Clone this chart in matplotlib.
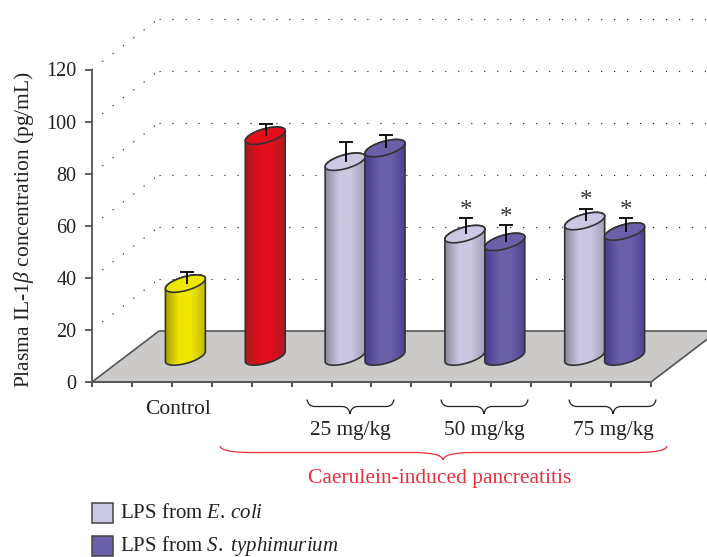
import numpy as np
import matplotlib
matplotlib.use('Agg')
import matplotlib.pyplot as plt
from matplotlib.colors import LinearSegmentedColormap
from matplotlib.patches import PathPatch, Polygon, Rectangle
from matplotlib.path import Path

plt.rcParams['font.family'] = ['Liberation Serif', 'DejaVu Serif']
plt.rcParams['mathtext.fontset'] = 'custom'
plt.rcParams['mathtext.rm'] = 'Liberation Serif'
plt.rcParams['mathtext.it'] = 'Liberation Serif:italic'

# values
positions = [1.5, 3.5, 5.5, 6.5, 8.5, 9.5, 11.5, 12.5]
values = [28, 84.8, 74.8, 80, 47, 44, 52, 48]
errors = [4.5, 4.6, 7.7, 5, 6.3, 6.5, 4.8, 5.3]
kinds = ['yellow', 'red', 'light', 'dark', 'light', 'dark', 'light', 'dark']
starred = [False, False, False, False, True, True, True, True]
yticks = [0, 20, 40, 60, 80, 100, 120]
group_labels = ['25 mg/kg', '50 mg/kg', '75 mg/kg']
legend_labels = ['LPS from $\\mathit{E.\\,coli}$', 'LPS from $\\mathit{S.\\ typhimurium}$']

# left edge, middle, right edge
shades = {
    'yellow': ['#a8a000', '#efe600', '#efe600', '#c4bc00'],
    'red': ['#a51d20', '#e30d1c', '#e30d1c', '#ad1b20'],
    'light': ['#8c8a9a', '#cbc8e4', '#cbc8e4', '#a3a1b8'],
    'dark': ['#483d8a', '#6a60a9', '#6a60a9', '#4d4290'],
}

W, H = 707, 557
AX_L, AX_R, AX_BOT, AX_TOP = 92, 651, 382, 69.5
X_UNIT = (AX_R - AX_L) / 14
Y_UNIT = (AX_BOT - AX_TOP) / 120
# how far the back of the floor sits behind the front, in data units
DEPTH_X = 67 / X_UNIT
DEPTH_Y = 51 / Y_UNIT

fig = plt.figure(figsize=(W / 100, H / 100), dpi=100)
ax = fig.add_axes([AX_L / W, 1 - AX_BOT / H, (AX_R - AX_L) / W, (AX_BOT - AX_TOP) / H])


def ellipse_points(cx, cy, start, stop):
    t = np.linspace(start, stop, 60)
    # sheared ellipse, left side lower than the right
    a = 0.5
    shear = 5 / Y_UNIT
    b = 7.1 / Y_UNIT
    return np.column_stack([cx + a * np.cos(t), cy + shear * np.cos(t) + b * np.sin(t)])


def draw_cylinder(x, value, kind):
    cx = x + DEPTH_X / 2
    base = DEPTH_Y / 2
    top = base + value
    colors = shades[kind]

    body = np.vstack([ellipse_points(cx, top, 0, np.pi), ellipse_points(cx, base, np.pi, 2 * np.pi)])
    patch = Polygon(body, closed=True, facecolor='none', edgecolor='#333333', lw=1.2, zorder=4, clip_on=False)
    ax.add_patch(patch)

    cmap = LinearSegmentedColormap.from_list(kind, list(zip([0, 0.35, 0.65, 1], colors)))
    im = ax.imshow(np.linspace(0, 1, 64).reshape(1, -1), cmap=cmap, aspect='auto',
                   extent=(cx - 0.5, cx + 0.5, 0, 120), zorder=3)
    im.set_clip_path(patch)

    cap = Polygon(ellipse_points(cx, top, 0, 2 * np.pi), closed=True, facecolor=colors[1],
                  edgecolor='#333333', lw=1.2, zorder=5)
    ax.add_patch(cap)


def draw_brace(overlay, x0, x1, tip, y_top, y_flat, y_tip, color, swoop=8):
    verts = [(x0, y_top), (x0 + 1, y_flat), (x0 + swoop, y_flat),
             (tip - swoop, y_flat), (tip - 1, y_flat), (tip, y_tip),
             (tip + 1, y_flat), (tip + swoop, y_flat),
             (x1 - swoop, y_flat), (x1 - 1, y_flat), (x1, y_top)]
    codes = [Path.MOVETO, Path.CURVE3, Path.CURVE3,
             Path.LINETO, Path.CURVE3, Path.CURVE3,
             Path.CURVE3, Path.CURVE3,
             Path.LINETO, Path.CURVE3, Path.CURVE3]
    overlay.add_patch(PathPatch(Path(verts, codes), facecolor='none', edgecolor=color, lw=0.9))


# floor and dotted walls
floor = Polygon([(0, 0), (14, 0), (14 + DEPTH_X, DEPTH_Y), (DEPTH_X, DEPTH_Y)], closed=True,
                facecolor='#cbcac9', edgecolor='#555555', lw=1.2, zorder=1, clip_on=False)
ax.add_patch(floor)
for level in yticks[1:]:
    ax.plot([0, DEPTH_X], [level, level + DEPTH_Y], color='#222222', lw=0.85,
            ls=(0, (1, 10)), clip_on=False, zorder=0)
    ax.plot([DEPTH_X, 14 + DEPTH_X], [level + DEPTH_Y, level + DEPTH_Y], color='#222222', lw=0.85,
            ls=(0, (1, 10)), clip_on=False, zorder=0)

for x, value, kind in zip(positions, values, kinds):
    draw_cylinder(x, value, kind)

for x, value, err, star in zip(positions, values, errors, starred):
    ex = x + DEPTH_X / 2 + 0.03
    ey = value + DEPTH_Y / 2
    ax.errorbar(ex, ey, yerr=[[0], [err]], color='black', lw=1.3, zorder=6, clip_on=False)
    ax.plot([ex], [ey + err], marker='_', ms=10, mew=1.3, color='black', zorder=6, clip_on=False)
    if star:
        ax.text(ex, ey + err - 1.5, '*', ha='center', va='bottom', fontsize=18, color='#333333', zorder=6)

ax.set_xlim(0, 14)
ax.set_ylim(0, 120)
ax.set_xticks(np.arange(0, 15))
ax.set_xticklabels([])
ax.set_yticks(yticks)
ax.tick_params(axis='y', length=5, width=1.1, color='#333333', labelsize=14.5, labelcolor='#222222', pad=6)
ax.tick_params(axis='x', length=3.6, width=1.1, color='#222222')
ax.set_ylabel('Plasma IL-1$\\beta$ concentration (pg/mL)', fontsize=15.5, color='#222222')
ax.yaxis.set_label_coords((36 - AX_L) / (AX_R - AX_L), (AX_BOT - 230) / (AX_BOT - AX_TOP))
ax.patch.set_alpha(0)
for side in ['top', 'right']:
    ax.spines[side].set_visible(False)
for side in ['left', 'bottom']:
    ax.spines[side].set_color('#555555')
    ax.spines[side].set_linewidth(1.3)
    ax.spines[side].set_zorder(2)

# everything below the axis is placed in picture pixels
overlay = fig.add_axes([0, 0, 1, 1], facecolor='none')
overlay.set_xlim(0, W)
overlay.set_ylim(H, 0)
overlay.axis('off')

overlay.text(178, 409, 'Control', ha='center', va='center', fontsize=15.5, color='#222222')
for label, (x0, x1, tip) in zip(group_labels, [(307, 394, 350), (441, 528, 484), (569, 656, 613)]):
    draw_brace(overlay, x0, x1, tip, 399.5, 406.5, 414, '#222222')
    overlay.text(tip, 430, label, ha='center', va='center', fontsize=15.3, color='#222222')
draw_brace(overlay, 220, 667, 443, 446, 452.5, 460, '#e8303a', swoop=30)
overlay.text(440, 479, 'Caerulein-induced pancreatitis', ha='center', va='center', fontsize=15.5, color='#e8303a')

for label, y0, kind in zip(legend_labels, [503, 536], ['light', 'dark']):
    overlay.add_patch(Rectangle((92, y0), 21, 20, facecolor=shades[kind][1], edgecolor='#444444', lw=1.1))
    overlay.text(120, y0 + 15, label, ha='left', va='baseline', fontsize=15, color='#222222')

fig.savefig('out.png', dpi=100)
